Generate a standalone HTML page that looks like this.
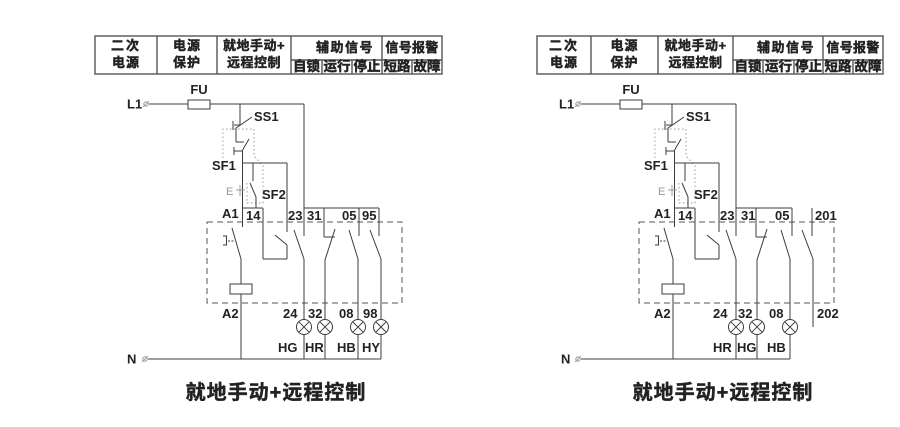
<!DOCTYPE html>
<html><head><meta charset="utf-8"><style>
html,body{margin:0;padding:0;background:#fff;}
svg{display:block;}
.t{font-family:"Liberation Sans","Noto Sans CJK SC",sans-serif;font-weight:bold;fill:#222;}
.h{stroke:#222;stroke-width:0.45;}
.l{stroke:#3c3c3c;stroke-width:1;fill:none;}
.d{stroke:#999;stroke-width:1;fill:none;stroke-dasharray:1.5,2.5;}
.dash{stroke:#555;stroke-width:1;fill:none;stroke-dasharray:6,4;}
.tb{stroke:#555;stroke-width:1.4;fill:none;}
</style></head><body>
<svg width="900" height="427" viewBox="0 0 900 427" xmlns="http://www.w3.org/2000/svg">
<rect width="900" height="427" fill="#fff"/>

<!-- LEFT TABLE -->
<g>
<rect class="tb" x="95" y="36" width="347" height="38"/>
<line class="tb" x1="157" y1="36" x2="157" y2="74"/>
<line class="tb" x1="217" y1="36" x2="217" y2="74"/>
<line class="tb" x1="291" y1="36" x2="291" y2="74"/>
<line class="tb" x1="291" y1="60" x2="442" y2="60"/>
<line class="tb" x1="322" y1="60" x2="322" y2="74"/>
<line class="tb" x1="352" y1="60" x2="352" y2="74"/>
<line class="tb" x1="382" y1="36" x2="382" y2="74"/>
<line class="tb" x1="412" y1="60" x2="412" y2="74"/>
<g class="t h" font-size="13" text-anchor="middle">
<text x="126" y="50" letter-spacing="2">二次</text>
<text x="126" y="67" letter-spacing="1">电源</text>
<text x="187" y="50" letter-spacing="1">电源</text>
<text x="187" y="67" letter-spacing="1">保护</text>
<text x="254" y="50" letter-spacing="0.5">就地手动+</text>
<text x="254" y="67" letter-spacing="0.5">远程控制</text>
<text x="345" y="52" letter-spacing="1.5">辅助信号</text>
<text x="412" y="52" letter-spacing="0.3">信号报警</text>
</g>
<g class="t h" font-size="13.5" text-anchor="middle">
<text x="306.5" y="71">自锁</text>
<text x="337" y="71">运行</text>
<text x="367" y="71">停止</text>
<text x="397" y="71">短路</text>
<text x="427" y="71">故障</text>
</g>
</g>

<!-- RIGHT TABLE -->
<g>
<rect class="tb" x="537" y="36" width="346" height="38"/>
<line class="tb" x1="591" y1="36" x2="591" y2="74"/>
<line class="tb" x1="658" y1="36" x2="658" y2="74"/>
<line class="tb" x1="733" y1="36" x2="733" y2="74"/>
<line class="tb" x1="733" y1="60" x2="883" y2="60"/>
<line class="tb" x1="763" y1="60" x2="763" y2="74"/>
<line class="tb" x1="794" y1="60" x2="794" y2="74"/>
<line class="tb" x1="823" y1="36" x2="823" y2="74"/>
<line class="tb" x1="853" y1="60" x2="853" y2="74"/>
<g class="t h" font-size="13" text-anchor="middle">
<text x="564" y="50" letter-spacing="2">二次</text>
<text x="564" y="67" letter-spacing="1">电源</text>
<text x="624.5" y="50" letter-spacing="1">电源</text>
<text x="624.5" y="67" letter-spacing="1">保护</text>
<text x="695.5" y="50" letter-spacing="0.5">就地手动+</text>
<text x="695.5" y="67" letter-spacing="0.5">远程控制</text>
<text x="786" y="52" letter-spacing="1.5">辅助信号</text>
<text x="853" y="52" letter-spacing="0.3">信号报警</text>
</g>
<g class="t h" font-size="13.5" text-anchor="middle">
<text x="748" y="71">自锁</text>
<text x="778.5" y="71">运行</text>
<text x="808.5" y="71">停止</text>
<text x="838" y="71">短路</text>
<text x="868" y="71">故障</text>
</g>
</g>

<!-- LEFT CIRCUIT -->
<g>
<text class="t" x="127" y="108.5" font-size="13">L1</text>
<circle cx="146" cy="104" r="2.2" stroke="#888" fill="none" stroke-width="0.8"/>
<line x1="143" y1="107" x2="149" y2="101" stroke="#888" stroke-width="0.8"/>
<line class="l" x1="149" y1="104" x2="188" y2="104"/>
<rect class="l" x="188" y="100" width="22" height="9"/>
<line class="l" x1="210" y1="104" x2="304" y2="104"/>
<text class="t" x="199" y="94" font-size="13" text-anchor="middle">FU</text>
<line class="l" x1="240" y1="104" x2="240" y2="125"/>
<line class="l" x1="234" y1="125" x2="240" y2="125"/>
<line class="l" x1="233" y1="121" x2="233" y2="130"/>
<line class="l" x1="236" y1="128" x2="252" y2="117"/>
<text class="t" x="254" y="121" font-size="13">SS1</text>
<line class="l" x1="236" y1="128" x2="236" y2="142"/>
<line class="l" x1="236" y1="142" x2="244" y2="142"/>
<line class="l" x1="234" y1="147" x2="234" y2="155"/>
<line class="l" x1="234" y1="151" x2="242" y2="151"/>
<line class="l" x1="242" y1="151" x2="249" y2="139"/>
<line class="l" x1="242.5" y1="151" x2="242.5" y2="227"/>
<text class="t" x="212" y="170" font-size="13">SF1</text>
<path class="d" d="M223,158 L223,129 L254,129 L254,156 L263,166 L263,203 L247,203 L247,181"/>
<line class="l" x1="242.5" y1="163" x2="287" y2="163"/>
<line class="l" x1="287" y1="163" x2="287" y2="232"/>
<line class="l" x1="253" y1="163" x2="253" y2="181"/>
<line class="l" x1="250" y1="183" x2="256" y2="197"/>
<line class="l" x1="256" y1="197" x2="256" y2="208"/>
<text class="t" x="262" y="199" font-size="13">SF2</text>
<text x="226" y="195" font-family="Liberation Sans, sans-serif" font-size="11" fill="#999">E</text>
<line x1="240" y1="185" x2="240" y2="196" stroke="#999" stroke-width="1"/>
<line x1="236" y1="190" x2="245" y2="190" stroke="#999" stroke-width="1"/>
<line class="l" x1="242.5" y1="208" x2="263" y2="208"/>
<line class="l" x1="263" y1="208" x2="263" y2="259"/>
<line class="l" x1="263" y1="259" x2="287" y2="259"/>
<line class="l" x1="287" y1="259" x2="287" y2="245"/>
<line class="l" x1="275" y1="235" x2="287" y2="245"/>
<text class="t" x="222" y="218" font-size="13">A1</text>
<text class="t" x="246" y="220" font-size="13">14</text>
<line class="l" x1="232" y1="228" x2="241" y2="259"/>
<line class="l" x1="241" y1="259" x2="241" y2="284"/>
<rect class="l" x="230" y="284" width="22" height="10"/>
<line class="l" x1="241" y1="294" x2="241" y2="359"/>
<path class="l" d="M223,236 L226.5,236 L226.5,245 L223,245"/>
<line class="l" x1="228" y1="241" x2="234" y2="241" stroke-dasharray="2,1.5"/>
<rect class="dash" x="207" y="222" width="195" height="81"/>
<text class="t" x="222" y="318" font-size="13">A2</text>
<text class="t" x="127" y="363.5" font-size="13">N</text>
<circle cx="145" cy="359" r="2.2" stroke="#888" fill="none" stroke-width="0.8"/>
<line x1="142" y1="362" x2="148" y2="356" stroke="#888" stroke-width="0.8"/>
<line class="l" x1="148" y1="359" x2="381" y2="359"/>
<text class="t" x="288" y="220" font-size="13">23</text>
<text class="t" x="307" y="220" font-size="13">31</text>
<text class="t" x="342" y="220" font-size="13">05</text>
<text class="t" x="362" y="220" font-size="13">95</text>
<line class="l" x1="304" y1="104" x2="304" y2="236"/>
<line class="l" x1="304" y1="208" x2="379" y2="208"/>
<line class="l" x1="294" y1="230" x2="304" y2="259"/>
<line class="l" x1="304" y1="259" x2="304" y2="359"/>
<line class="l" x1="324" y1="208" x2="324" y2="237"/>
<line class="l" x1="324" y1="237" x2="335" y2="237"/>
<line class="l" x1="335" y1="229" x2="325" y2="260"/>
<line class="l" x1="325" y1="260" x2="325" y2="359"/>
<line class="l" x1="359" y1="208" x2="359" y2="236"/>
<line class="l" x1="349" y1="230" x2="358" y2="259"/>
<line class="l" x1="358" y1="259" x2="358" y2="359"/>
<line class="l" x1="379" y1="208" x2="379" y2="236"/>
<line class="l" x1="370" y1="230" x2="381" y2="259"/>
<line class="l" x1="381" y1="259" x2="381" y2="359"/>
<text class="t" x="283" y="318" font-size="13">24</text>
<text class="t" x="308" y="318" font-size="13">32</text>
<text class="t" x="339" y="318" font-size="13">08</text>
<text class="t" x="363" y="318" font-size="13">98</text>
<g class="l">
<circle cx="304" cy="327" r="7.5" fill="#fff"/><path d="M298.7,321.7 L309.3,332.3 M309.3,321.7 L298.7,332.3"/>
<circle cx="325" cy="327" r="7.5" fill="#fff"/><path d="M319.7,321.7 L330.3,332.3 M330.3,321.7 L319.7,332.3"/>
<circle cx="358" cy="327" r="7.5" fill="#fff"/><path d="M352.7,321.7 L363.3,332.3 M363.3,321.7 L352.7,332.3"/>
<circle cx="381" cy="327" r="7.5" fill="#fff"/><path d="M375.7,321.7 L386.3,332.3 M386.3,321.7 L375.7,332.3"/>
</g>
<text class="t" x="278" y="352" font-size="13">HG</text>
<text class="t" x="305" y="352" font-size="13">HR</text>
<text class="t" x="337" y="352" font-size="13">HB</text>
<text class="t" x="362" y="352" font-size="13">HY</text>
<text class="t h" x="276" y="399" font-size="20" text-anchor="middle" letter-spacing="1" stroke-width="0.3">就地手动+远程控制</text>
</g>

<!-- RIGHT CIRCUIT -->
<g transform="translate(432,0)">
<text class="t" x="127" y="108.5" font-size="13">L1</text>
<circle cx="146" cy="104" r="2.2" stroke="#888" fill="none" stroke-width="0.8"/>
<line x1="143" y1="107" x2="149" y2="101" stroke="#888" stroke-width="0.8"/>
<line class="l" x1="149" y1="104" x2="188" y2="104"/>
<rect class="l" x="188" y="100" width="22" height="9"/>
<line class="l" x1="210" y1="104" x2="304" y2="104"/>
<text class="t" x="199" y="94" font-size="13" text-anchor="middle">FU</text>
<line class="l" x1="240" y1="104" x2="240" y2="125"/>
<line class="l" x1="234" y1="125" x2="240" y2="125"/>
<line class="l" x1="233" y1="121" x2="233" y2="130"/>
<line class="l" x1="236" y1="128" x2="252" y2="117"/>
<text class="t" x="254" y="121" font-size="13">SS1</text>
<line class="l" x1="236" y1="128" x2="236" y2="142"/>
<line class="l" x1="236" y1="142" x2="244" y2="142"/>
<line class="l" x1="234" y1="147" x2="234" y2="155"/>
<line class="l" x1="234" y1="151" x2="242" y2="151"/>
<line class="l" x1="242" y1="151" x2="249" y2="139"/>
<line class="l" x1="242.5" y1="151" x2="242.5" y2="227"/>
<text class="t" x="212" y="170" font-size="13">SF1</text>
<path class="d" d="M223,158 L223,129 L254,129 L254,156 L263,166 L263,203 L247,203 L247,181"/>
<line class="l" x1="242.5" y1="163" x2="287" y2="163"/>
<line class="l" x1="287" y1="163" x2="287" y2="232"/>
<line class="l" x1="253" y1="163" x2="253" y2="181"/>
<line class="l" x1="250" y1="183" x2="256" y2="197"/>
<line class="l" x1="256" y1="197" x2="256" y2="208"/>
<text class="t" x="262" y="199" font-size="13">SF2</text>
<text x="226" y="195" font-family="Liberation Sans, sans-serif" font-size="11" fill="#999">E</text>
<line x1="240" y1="185" x2="240" y2="196" stroke="#999" stroke-width="1"/>
<line x1="236" y1="190" x2="245" y2="190" stroke="#999" stroke-width="1"/>
<line class="l" x1="242.5" y1="208" x2="263" y2="208"/>
<line class="l" x1="263" y1="208" x2="263" y2="259"/>
<line class="l" x1="263" y1="259" x2="287" y2="259"/>
<line class="l" x1="287" y1="259" x2="287" y2="245"/>
<line class="l" x1="275" y1="235" x2="287" y2="245"/>
<text class="t" x="222" y="218" font-size="13">A1</text>
<text class="t" x="246" y="220" font-size="13">14</text>
<line class="l" x1="232" y1="228" x2="241" y2="259"/>
<line class="l" x1="241" y1="259" x2="241" y2="284"/>
<rect class="l" x="230" y="284" width="22" height="10"/>
<line class="l" x1="241" y1="294" x2="241" y2="359"/>
<path class="l" d="M223,236 L226.5,236 L226.5,245 L223,245"/>
<line class="l" x1="228" y1="241" x2="234" y2="241" stroke-dasharray="2,1.5"/>
<rect class="dash" x="207" y="222" width="195" height="81"/>
<text class="t" x="222" y="318" font-size="13">A2</text>
<text class="t" x="129" y="363.5" font-size="13">N</text>
<circle cx="146" cy="359" r="2.2" stroke="#888" fill="none" stroke-width="0.8"/>
<line x1="143" y1="362" x2="149" y2="356" stroke="#888" stroke-width="0.8"/>
<line class="l" x1="149" y1="359" x2="358" y2="359"/>
<text class="t" x="288" y="220" font-size="13">23</text>
<text class="t" x="309" y="220" font-size="13">31</text>
<text class="t" x="343" y="220" font-size="13">05</text>
<text class="t" x="383" y="220" font-size="13">201</text>
<line class="l" x1="304" y1="104" x2="304" y2="236"/>
<line class="l" x1="304" y1="208" x2="360" y2="208"/>
<line class="l" x1="294" y1="230" x2="304" y2="259"/>
<line class="l" x1="304" y1="259" x2="304" y2="359"/>
<line class="l" x1="324" y1="208" x2="324" y2="237"/>
<line class="l" x1="324" y1="237" x2="335" y2="237"/>
<line class="l" x1="335" y1="229" x2="325" y2="260"/>
<line class="l" x1="325" y1="260" x2="325" y2="359"/>
<line class="l" x1="360" y1="208" x2="360" y2="236"/>
<line class="l" x1="349" y1="230" x2="358" y2="259"/>
<line class="l" x1="358" y1="259" x2="358" y2="359"/>
<line class="l" x1="380" y1="208" x2="380" y2="236"/>
<line class="l" x1="370" y1="230" x2="381" y2="259"/>
<line class="l" x1="381" y1="259" x2="381" y2="327"/>
<text class="t" x="281" y="318" font-size="13">24</text>
<text class="t" x="306" y="318" font-size="13">32</text>
<text class="t" x="337" y="318" font-size="13">08</text>
<text class="t" x="385" y="318" font-size="13">202</text>
<g class="l">
<circle cx="304" cy="327" r="7.5" fill="#fff"/><path d="M298.7,321.7 L309.3,332.3 M309.3,321.7 L298.7,332.3"/>
<circle cx="325" cy="327" r="7.5" fill="#fff"/><path d="M319.7,321.7 L330.3,332.3 M330.3,321.7 L319.7,332.3"/>
<circle cx="358" cy="327" r="7.5" fill="#fff"/><path d="M352.7,321.7 L363.3,332.3 M363.3,321.7 L352.7,332.3"/>
</g>
<text class="t" x="281" y="352" font-size="13">HR</text>
<text class="t" x="305" y="352" font-size="13">HG</text>
<text class="t" x="335" y="352" font-size="13">HB</text>
</g>
<text class="t h" x="723" y="399" font-size="20" text-anchor="middle" letter-spacing="1" stroke-width="0.3">就地手动+远程控制</text>
</svg>
</body></html>
